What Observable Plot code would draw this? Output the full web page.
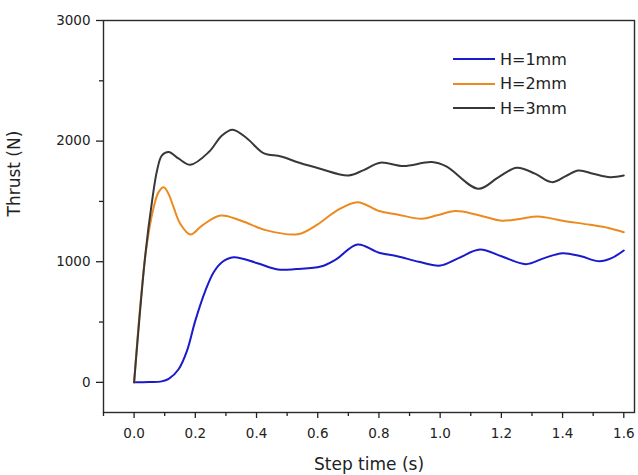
<!DOCTYPE html>
<html>
<head>
<meta charset="utf-8">
<script src="https://cdn.jsdelivr.net/npm/d3@7"></script>
<script src="https://cdn.jsdelivr.net/npm/@observablehq/plot@0.6"></script>
<style>
  html, body { margin: 0; padding: 0; background: #fff; }
  #wrap { position: relative; width: 638px; height: 475px; font-family: "DejaVu Sans", sans-serif; }
  #legend { position: absolute; left: 453px; top: 47px; }
  .row { display: flex; align-items: center; height: 24.5px; }
  .sw { width: 42px; height: 0; border-top: 2px solid; margin-right: 5px; }
  .lab { font-size: 16px; color: #222; }
</style>
</head>
<body>
<div id="wrap"></div>
<script>
// Series values (time s, thrust N)
const t1 = [0, 0.05, 0.09, 0.113, 0.146, 0.173, 0.2, 0.233, 0.26, 0.287, 0.325, 0.40, 0.47, 0.53, 0.61, 0.66, 0.73, 0.80, 0.86, 0.93, 1.00, 1.06, 1.13, 1.20, 1.28, 1.34, 1.40, 1.46, 1.52, 1.56, 1.60];
const v1 = [0, 2, 8, 28, 111, 263, 512, 761, 913, 996, 1037, 990, 935, 940, 960, 1020, 1143, 1075, 1046, 1000, 968, 1030, 1101, 1045, 980, 1030, 1071, 1045, 1004, 1030, 1093];

const t2 = [0, 0.037, 0.064, 0.08, 0.097, 0.113, 0.129, 0.151, 0.184, 0.222, 0.282, 0.35, 0.43, 0.535, 0.60, 0.66, 0.73, 0.80, 0.86, 0.94, 0.99, 1.05, 1.12, 1.20, 1.26, 1.32, 1.40, 1.49, 1.55, 1.60];
const v2 = [0, 1055, 1452, 1577, 1618, 1560, 1452, 1314, 1226, 1300, 1383, 1340, 1262, 1228, 1310, 1420, 1494, 1420, 1392, 1356, 1385, 1420, 1390, 1340, 1355, 1375, 1340, 1306, 1280, 1245];

const t3 = [0, 0.037, 0.059, 0.075, 0.091, 0.113, 0.146, 0.184, 0.244, 0.287, 0.322, 0.37, 0.423, 0.48, 0.54, 0.608, 0.70, 0.75, 0.804, 0.88, 0.973, 1.02, 1.125, 1.19, 1.25, 1.31, 1.365, 1.41, 1.452, 1.50, 1.555, 1.60];
const v3 = [0, 1066, 1508, 1757, 1881, 1909, 1854, 1804, 1909, 2047, 2095, 2020, 1900, 1873, 1820, 1771, 1715, 1760, 1821, 1793, 1826, 1790, 1605, 1700, 1779, 1730, 1660, 1710, 1757, 1730, 1701, 1715];

const seriesNames = ["H=1mm", "H=2mm", "H=3mm"];
const seriesColors = ["#1a1acd", "#ec8a1f", "#383838"];

const xMajor = [0, 0.2, 0.4, 0.6, 0.8, 1.0, 1.2, 1.4, 1.6];
const xMinor = [-0.1, 0.1, 0.3, 0.5, 0.7, 0.9, 1.1, 1.3, 1.5];
const yMajor = [0, 1000, 2000, 3000];
const yMinor = [500, 1500, 2500];

const xTitle = "Step time (s)";
const yTitle = "Thrust (N)";

const toRows = (ts, vs, s) => ts.map((t, i) => ({t, v: vs[i], s}));
const data = [
  ...toRows(t1, v1, seriesNames[0]),
  ...toRows(t2, v2, seriesNames[1]),
  ...toRows(t3, v3, seriesNames[2])
];

const chart = Plot.plot({
  width: 638,
  height: 475,
  marginLeft: 103,
  marginTop: 20,
  marginRight: 4,
  marginBottom: 63,
  style: {fontFamily: "DejaVu Sans", background: "#fff", color: "#222"},
  x: {domain: [-0.1, 1.635]},
  y: {domain: [-250, 3000]},
  color: {domain: seriesNames, range: seriesColors},
  marks: [
    Plot.frame({stroke: "#2a2a2a", strokeWidth: 1.4}),
    Plot.axisX(xMajor, {tickSize: 6, tickPadding: 10, tickFormat: d3.format(".1f"), fontSize: 13.5, label: null, strokeWidth: 1.3}),
    Plot.axisX(xMinor, {tickSize: 4, tickFormat: () => "", label: null, strokeWidth: 1.3}),
    Plot.axisY(yMajor, {tickSize: 7, tickPadding: 6, tickFormat: d3.format("d"), fontSize: 13.5, label: null, strokeWidth: 1.3}),
    Plot.axisY(yMinor, {tickSize: 4, tickFormat: () => "", label: null, strokeWidth: 1.3}),
    Plot.line(data, {x: "t", y: "v", z: "s", stroke: "s", strokeWidth: 2, curve: "catmull-rom"}),
    Plot.text([xTitle], {frameAnchor: "bottom", dy: 52, fontSize: 17, fill: "#222", lineAnchor: "middle"}),
    Plot.text([yTitle], {frameAnchor: "left", dx: -89, rotate: -90, fontSize: 17, fill: "#222", lineAnchor: "middle"})
  ]
});

const wrap = document.getElementById("wrap");
wrap.appendChild(chart);

const legend = document.createElement("div");
legend.id = "legend";
seriesNames.forEach((name, i) => {
  const row = document.createElement("div");
  row.className = "row";
  const sw = document.createElement("div");
  sw.className = "sw";
  sw.style.borderTopColor = seriesColors[i];
  const lab = document.createElement("span");
  lab.className = "lab";
  lab.textContent = name;
  row.appendChild(sw);
  row.appendChild(lab);
  legend.appendChild(row);
});
wrap.appendChild(legend);
</script>
</body>
</html>
